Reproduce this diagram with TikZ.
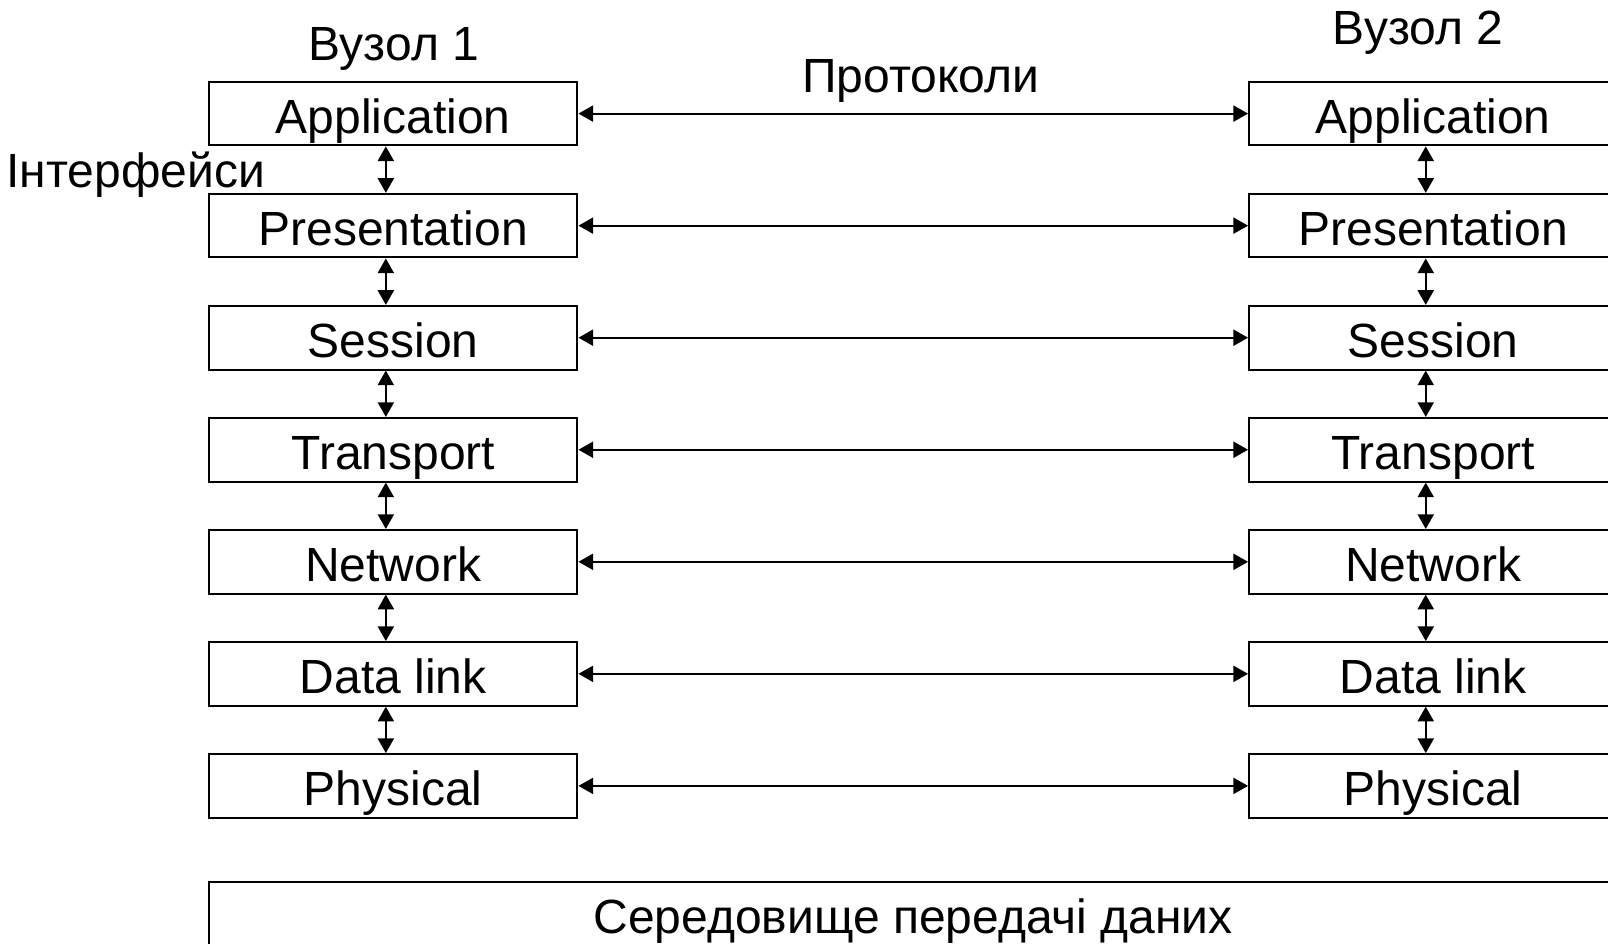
\documentclass[tikz,border=0pt]{standalone}
\usepackage{fontspec}
\setmainfont{Liberation Sans}
\usetikzlibrary{arrows.meta}
\begin{document}
\begin{tikzpicture}[x=0.75pt,y=-0.75pt,
  lbl/.style={font=\fontsize{36}{43}\selectfont, inner sep=0pt},
  layer/.style={lbl, draw, line width=1.5pt, minimum width=276.2pt, minimum height=47.7pt, text height=29.5pt, text depth=0pt},
  link/.style={line width=1.5pt, {Triangle[length=11pt,width=12pt]}-{Triangle[length=11pt,width=12pt]}}]
\useasboundingbox (0,0) rectangle (1608,943);
\clip (0,0) rectangle (1608,943);
\foreach \t [count=\i from 0] in {Application, Presentation, Session, Transport, Network, Data link, Physical}{
  \node[layer] (L\i) at (393.3, {113.6+\i*112.05}) {\t};
  \node[layer] (R\i) at (1433.2, {113.6+\i*112.05}) {\t};
  \draw[link] (L\i.east) -- (R\i.west);
}
\foreach \i [evaluate=\i as \j using int(\i+1)] in {0,...,5}{
  \draw[link] ([xshift=-5.6pt]L\i.south) -- ([xshift=-5.6pt]L\j.north);
  \draw[link] ([xshift=-5.6pt]R\i.south) -- ([xshift=-5.6pt]R\j.north);
}
\node[layer, minimum width=1056.1pt] (medium) at (913.25, 913.5) {Середовище передачі даних};
\node[lbl, anchor=base] (v1) at (393.8, 60.5) {Вузол 1};
\node[lbl, anchor=base] (v2) at (1418, 44) {Вузол 2};
\node[lbl, anchor=base] (prot) at (920.9, 92) {Протоколи};
\node[lbl, anchor=base west] (intf) at (6.2, 187.5) {Інтерфейси};
\end{tikzpicture}
\end{document}
